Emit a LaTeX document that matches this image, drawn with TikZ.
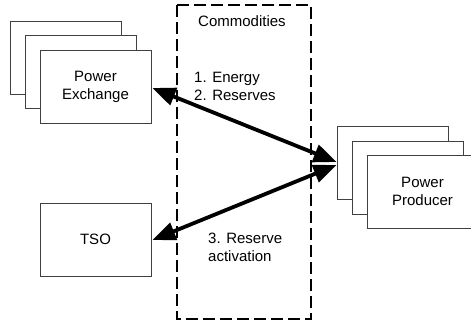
\documentclass[tikz,border=0pt]{standalone}
\usepackage{fontspec}
\setmainfont{Liberation Sans}
\usetikzlibrary{arrows.meta,calc}
\begin{document}
\begin{tikzpicture}[x=1pt,y=-1pt,
  every node/.style={font=\fontsize{15}{18}\selectfont},
  actor/.style={draw=black!75,line width=0.9pt,fill=white,minimum width=111pt,minimum height=73pt,inner sep=0pt,align=center},
  flow/.style={line width=3.8pt,{Triangle[length=23pt,width=18pt]}-{Triangle[length=23pt,width=18pt]}},
  zone/.style={draw,line width=1.8pt,dash pattern=on 12pt off 5pt}
]
\useasboundingbox (0,0) rectangle (471,324);
\begin{scope}
\clip (0,0) rectangle (471,324);
% dashed commodities zone
\draw[zone] (177,5) rectangle (311,319);
\node[anchor=base west,inner sep=0pt] (comm) at (198,26) {Commodities};
\node[anchor=base west,inner sep=0pt,align=left] (l12) at (194,100) {1. Energy\\2. Reserves};
\node[anchor=base west,inner sep=0pt,align=left] (l3) at (208,261) {3. Reserve\\activation};
% Power exchange stack
\node[actor] (peb) at (65.5,57.5) {};
\node[actor] (pem) at (80.5,72) {};
\node[actor] (pe) at (95.5,86.5) {Power\\Exchange};
% TSO
\node[actor] (tso) at (95.5,239.5) {TSO};
% Power producer stack
\node[actor] (ppb) at (392.5,163) {};
\node[actor] (ppm) at (407.5,177.5) {};
\node[actor] (pp) at (422.5,191.5) {Power\\Producer};
% flows
\draw[flow] ($(pe.east)+(1,1.5)$) -- ($(ppb.west)+(0,-1)$);
\draw[flow] ($(tso.east)+(1,0.5)$) -- ($(ppb.west)+(0,2)$);
\end{scope}
\end{tikzpicture}
\end{document}
